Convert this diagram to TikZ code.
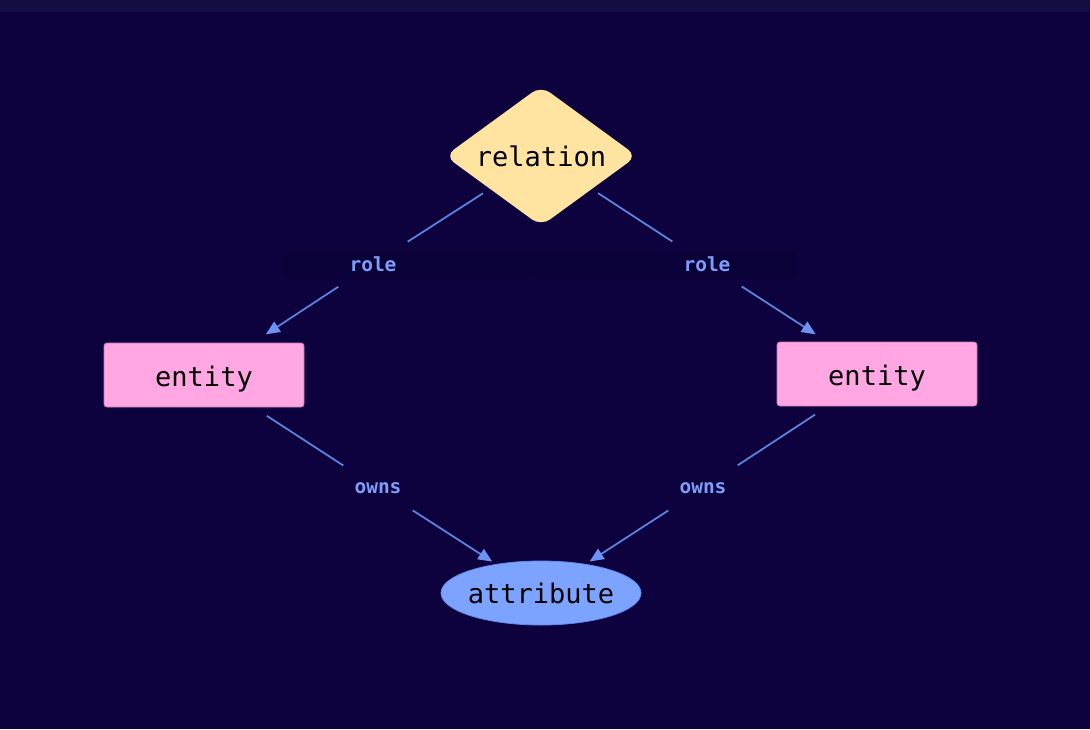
\documentclass[tikz,border=0pt]{standalone}
\usepackage{fontspec}
\setmonofont{DejaVu Sans Mono}
\usetikzlibrary{arrows.meta,calc,shapes.geometric}
\definecolor{bg}{HTML}{0D023E}
\definecolor{topbar}{HTML}{130D43}
\definecolor{band}{HTML}{0B0139}
\definecolor{relfill}{HTML}{FFE3A1}
\definecolor{entfill}{HTML}{FFA6E3}
\definecolor{entdraw}{HTML}{C97BB5}
\definecolor{attrfill}{HTML}{7BA3FF}
\definecolor{attrdraw}{HTML}{6389E8}
\definecolor{edgecol}{HTML}{5E80DE}
\definecolor{tipcol}{HTML}{6D92F4}
\definecolor{lblcol}{HTML}{7C9EFA}
\begin{document}
\begin{tikzpicture}[x=1pt,y=-1pt,
  nodetext/.style={font=\ttfamily\fontsize{27}{30}\selectfont, text=black, inner sep=0pt},
  entbox/.style={nodetext, draw=entdraw, line width=0.8pt, fill=entfill, rounded corners=3pt,
    minimum width=200pt, minimum height=64pt, text height=22pt, text depth=0pt},
  attrshape/.style={draw=attrdraw, line width=0.8pt, fill=attrfill},
  lbl/.style={font=\ttfamily\bfseries\fontsize{19.5}{22}\selectfont, text=lblcol, inner sep=0pt,
    minimum width=69pt, minimum height=46pt},
  edge/.style={draw=edgecol, line width=1.8pt},
  arrowedge/.style={edge, -{Triangle[length=14pt,width=12pt,color=tipcol]}}
]
\fill[bg] (0,0) rectangle (1090,729);
\fill[topbar] (0,0) rectangle (1090,12);
\useasboundingbox (0,0) rectangle (1090,729);

% label bands
\fill[band, rounded corners=5pt] (284,251) rectangle (530,279);
\fill[band, rounded corners=5pt] (530,251) rectangle (796,279);

% relation diamond
\fill[relfill, rounded corners=11pt] (541,86) -- (637,156) -- (541,226) -- (445,156) -- cycle;
\node[nodetext] (rel) at (541,156) {relation};

% entities
\node[entbox] (e1) at (204,375) {entity};
\node[entbox] (e2) at (877,374) {entity};

% attribute
\path[attrshape] (541,593) ellipse [x radius=100pt, y radius=32pt];
\node[nodetext] (attr) at (541,593) {attribute};

% labels
\node[lbl] (l1) at (373,264) {role};
\node[lbl] (l2) at (707,264) {role};
\node[lbl] (l3) at (378,488) {owns};
\node[lbl] (l4) at (703,488) {owns};

% edges
\draw[edge, shorten <=69pt] (rel.center) -- (l1);
\draw[arrowedge, shorten >=74pt] (l1) -- (e1.center);
\draw[edge, shorten <=68pt] (rel.center) -- (l2);
\draw[arrowedge, shorten >=73pt] (l2) -- (e2.center);
\draw[edge, shorten <=75pt] (e1.center) -- (l3);
\draw[arrowedge, shorten >=58pt] (l3) -- (attr.center);
\draw[edge, shorten <=74pt] (e2.center) -- (l4);
\draw[arrowedge, shorten >=58pt] (l4) -- (attr.center);
\end{tikzpicture}
\end{document}
